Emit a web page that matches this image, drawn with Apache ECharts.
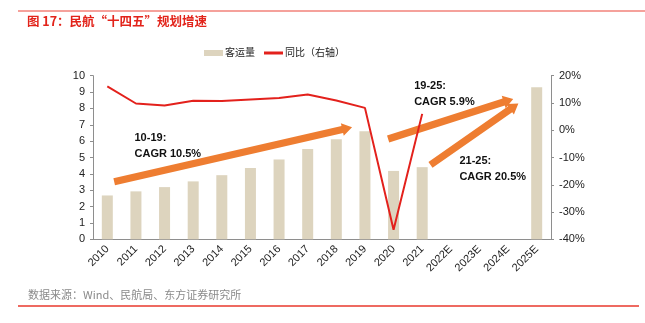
<!DOCTYPE html>
<html><head><meta charset="utf-8">
<script src="https://cdn.jsdelivr.net/npm/echarts@6/dist/echarts.min.js"></script>
<style>html,body{margin:0;padding:0;background:#fff}#c{width:645px;height:323px}</style>
</head><body><div id="c"></div>
<script>
var categories = ['2010','2011','2012','2013','2014','2015','2016','2017','2018','2019','2020','2021','2022E','2023E','2024E','2025E'];
var passengers = [2.68, 2.93, 3.19, 3.54, 3.92, 4.36, 4.88, 5.52, 6.12, 6.60, 4.18, 4.41, null, null, null, 9.3];
var yoy = [16.1, 9.8, 9.1, 10.8, 10.7, 11.3, 11.8, 13.1, 10.9, 8.2, -36.5, 6.0, null, null, null, null];
var leftTicks = {min: 0, max: 10, interval: 1};
var rightTicks = {min: -40, max: 20, interval: 10};
// annotation arrows: [startIndex, startValue, endIndex, endValue] on left axis
var arrows = [[0.24, 3.52, 8.55, 6.85], [9.81, 6.13, 14.18, 8.58], [11.29, 4.55, 14.36, 8.3]];
var notes = [[0.95, 6.7, '10-19:\nCAGR 10.5%'], [10.72, 9.87, '19-25:\nCAGR 5.9%'], [12.3, 5.25, '21-25:\nCAGR 20.5%']];

var FONT = '"Liberation Sans", Arial, "Noto Sans CJK SC", sans-serif';
var chart = echarts.init(document.getElementById('c'), null, {renderer: 'canvas'});
var axisColor = '#8e8e8e';
var option = {
  animation: false,
  textStyle: {fontFamily: FONT},
  grid: {left: 93, right: 94, top: 75.7, bottom: 83.7},
  legend: [
    {left: 199, top: 43, itemWidth: 19, itemHeight: 6, itemGap: 10, icon: 'rect',
     data: [{name: '客运量'}], textStyle: {fontSize: 10, color: '#222', padding: [0,0,0,-3]}},
    {left: 259, top: 43, itemWidth: 19, itemHeight: 3, icon: 'rect',
     data: [{name: '同比（右轴）'}], textStyle: {fontSize: 10, color: '#222', padding: [0,0,0,-3]}}
  ],
  xAxis: {
    type: 'category', data: categories,
    axisLine: {lineStyle: {color: axisColor}},
    axisTick: {inside: true, length: 3, lineStyle: {color: axisColor}},
    axisLabel: {rotate: 45, interval: 0, fontSize: 11, color: '#222', margin: 8}
  },
  yAxis: [
    {type: 'value', min: leftTicks.min, max: leftTicks.max, interval: leftTicks.interval,
     splitLine: {show: false},
     axisLine: {show: true, lineStyle: {color: axisColor}},
     axisTick: {show: true, length: 3, lineStyle: {color: axisColor}},
     axisLabel: {fontSize: 11, color: '#222', margin: 8}},
    {type: 'value', min: rightTicks.min, max: rightTicks.max, interval: rightTicks.interval,
     splitLine: {show: false},
     axisLine: {show: true, lineStyle: {color: axisColor}},
     axisTick: {show: true, length: 3, lineStyle: {color: axisColor}},
     axisLabel: {fontSize: 11, color: '#222', margin: 8, formatter: '{value}%'}}
  ],
  series: [
    {name: '客运量', type: 'bar', data: passengers, barWidth: 11,
     itemStyle: {color: '#DDD4BE'}},
    {name: '同比（右轴）', type: 'line', yAxisIndex: 1, data: yoy, symbol: 'none',
     connectNulls: false, lineStyle: {color: '#E3211C', width: 2}, itemStyle: {color: '#E3211C'}}
  ],
  graphic: []
};
chart.setOption(option);

function px(idx, val) {
  var p0 = chart.convertToPixel({xAxisIndex: 0, yAxisIndex: 0}, [0, val]);
  var p1 = chart.convertToPixel({xAxisIndex: 0, yAxisIndex: 0}, [1, val]);
  return [p0[0] + (p1[0] - p0[0]) * idx, p0[1]];
}
function arrowPoly(a, b) {
  var dx = b[0]-a[0], dy = b[1]-a[1], L = Math.sqrt(dx*dx+dy*dy);
  var ux = dx/L, uy = dy/L, nx = -uy, ny = ux;
  var sw = 3.6, hw = 6.5, hl = 10;
  var bx = b[0]-ux*hl, by = b[1]-uy*hl;
  return [[a[0]+nx*sw, a[1]+ny*sw], [bx+nx*sw, by+ny*sw], [bx+nx*hw, by+ny*hw], [b[0], b[1]],
          [bx-nx*hw, by-ny*hw], [bx-nx*sw, by-ny*sw], [a[0]-nx*sw, a[1]-ny*sw]];
}
var g = [];
g.push({type: 'line', shape: {x1: 18, y1: 11, x2: 645, y2: 11}, style: {stroke: '#F5A19B', lineWidth: 2}});
g.push({type: 'text', left: 27, top: 15, style: {text: '图 17：民航“十四五”规划增速', fill: '#E2231A', font: 'bold 12.5px "Noto Sans CJK SC", sans-serif'}});
g.push({type: 'line', shape: {x1: 18, y1: 306, x2: 639, y2: 306}, style: {stroke: '#E8382C', lineWidth: 1.5}});
g.push({type: 'text', left: 28, top: 289, style: {text: '数据来源：Wind、民航局、东方证券研究所', fill: '#8a8a8a', font: '11px "Noto Sans CJK SC", sans-serif'}});
arrows.forEach(function (r) {
  g.push({type: 'polygon', shape: {points: arrowPoly(px(r[0], r[1]), px(r[2], r[3]))}, style: {fill: '#EE7D31'}});
});
notes.forEach(function (n) {
  var p = px(n[0], n[1]);
  g.push({type: 'text', x: p[0], y: p[1], style: {text: n[2], fill: '#111', font: 'bold 11px "Liberation Sans", Arial, sans-serif', lineHeight: 16}});
});
chart.setOption({graphic: g});
</script></body></html>
